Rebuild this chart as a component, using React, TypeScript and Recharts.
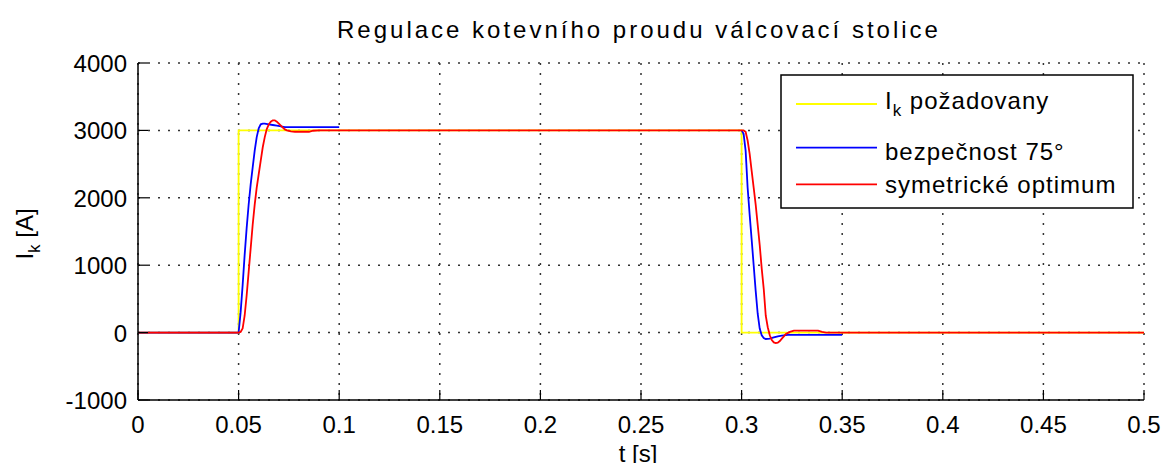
import { LineChart, Line, XAxis, YAxis, CartesianGrid } from 'recharts';

// time [s] / armature current [A]
const yellowT = [0, 0.05, 0.05, 0.3, 0.3, 0.5];
const yellowI = [0, 0, 3000, 3000, 0, 0];

const blueT = [
  0, 0.05, 0.051, 0.052, 0.053, 0.054, 0.055, 0.056, 0.057, 0.058, 0.059, 0.06, 0.061, 0.062, 0.063,
  0.065, 0.067, 0.069, 0.071, 0.073, 0.1,
  0.2,
  0.3, 0.301, 0.302, 0.303, 0.304, 0.305, 0.306, 0.307, 0.308, 0.309, 0.31, 0.311, 0.312, 0.314,
  0.316, 0.318, 0.32, 0.323, 0.35,
];
const blueI = [
  0, 0, 300, 700, 1150, 1550, 1900, 2200, 2450, 2700, 2900, 3030, 3090, 3100, 3100,
  3090, 3080, 3070, 3060, 3050, 3050,
  null,
  3000, 2950, 2700, 2150, 1750, 1380, 1000, 620, 280, 60, -40, -80, -95, -90,
  -70, -55, -45, -35, -35,
];

const redT = [
  0, 0.05, 0.051, 0.052, 0.053, 0.054, 0.055, 0.056, 0.057, 0.058, 0.059, 0.06, 0.061, 0.062, 0.063,
  0.064, 0.065, 0.066, 0.067, 0.068, 0.069, 0.07, 0.071, 0.072, 0.073, 0.074, 0.076, 0.078, 0.085,
  0.087, 0.09,
  0.3, 0.301, 0.302, 0.303, 0.304, 0.305, 0.306, 0.307, 0.308, 0.309, 0.31, 0.311, 0.312, 0.313,
  0.314, 0.315, 0.316, 0.317, 0.318, 0.319, 0.32, 0.321, 0.322, 0.324, 0.326, 0.338, 0.34, 0.342, 0.5,
];
const redI = [
  0, 0, 10, 60, 250, 550, 900, 1250, 1600, 1900, 2150, 2350, 2550, 2750, 2900,
  3020, 3090, 3130, 3150, 3150, 3130, 3100, 3070, 3040, 3015, 3000, 2985, 2980, 2980,
  2995, 3000,
  3000, 3000, 2980, 2850, 2650, 2400, 2150, 1900, 1600, 1300, 950, 650, 250, 80,
  -40, -110, -145, -155, -150, -125, -90, -55, -20, 10, 30, 30, 10, 0, 0,
];

const xTicks = [0, 0.05, 0.1, 0.15, 0.2, 0.25, 0.3, 0.35, 0.4, 0.45, 0.5];
const yTicks = [-1000, 0, 1000, 2000, 3000, 4000];

const title = 'Regulace kotevního proudu válcovací stolice';
const legendNames = ['požadovany', 'bezpečnost 75°', 'symetrické optimum'];
const colors = ['#ffff00', '#0000ff', '#ff0000'];

const toRows = (t: number[], v: (number | null)[]) => t.map((x, k) => ({ t: x, i: v[k] }));

const FONT = "'Liberation Sans', Arial, sans-serif";
const W = 1160;
const H = 463;

const BottomTick = ({ x, y, payload }: any) => (
  <g>
    <line x1={x} y1={y} x2={x} y2={y - 10} stroke="#000" strokeWidth={1.2} />
    <text x={x} y={y + 33} textAnchor="middle" fontSize={24} fontFamily={FONT} fill="#000">
      {String(payload.value)}
    </text>
  </g>
);
const TopTick = ({ x, y }: any) => (
  <line x1={x} y1={y} x2={x} y2={y + 10} stroke="#000" strokeWidth={1.2} />
);
const LeftTick = ({ x, y, payload }: any) => (
  <g>
    <line x1={x} y1={y} x2={x + 10} y2={y} stroke="#000" strokeWidth={1.2} />
    <text x={x - 11} y={y + 9} textAnchor="end" fontSize={24} fontFamily={FONT} fill="#000">
      {String(payload.value)}
    </text>
  </g>
);
const RightTick = ({ x, y }: any) => (
  <line x1={x} y1={y} x2={x - 10} y2={y} stroke="#000" strokeWidth={1.2} />
);

export default function App() {
  const axisLine = { stroke: '#000', strokeWidth: 1.5 };
  return (
    <div style={{ position: 'relative', width: W, height: H, marginBottom: -8, background: '#fff' }}>
      <LineChart width={W} height={H} margin={{ top: 55, right: 24, bottom: 8, left: 10 }}>
        <CartesianGrid stroke="#333" strokeDasharray="2 8" strokeWidth={1.5} />
        <XAxis
          dataKey="t"
          type="number"
          domain={[0, 0.5]}
          ticks={xTicks}
          allowDataOverflow
          height={63}
          tickSize={0}
          tickMargin={0}
          tickLine={false}
          axisLine={axisLine}
          tick={BottomTick}
          interval={0}
        />
        <XAxis
          xAxisId="top"
          orientation="top"
          dataKey="t"
          type="number"
          domain={[0, 0.5]}
          ticks={xTicks}
          height={0}
          tickSize={0}
          tickMargin={0}
          tickLine={false}
          axisLine={axisLine}
          tick={TopTick}
          interval={0}
        />
        <YAxis
          type="number"
          domain={[-1000, 4000]}
          ticks={yTicks}
          allowDataOverflow
          width={120}
          tickSize={0}
          tickMargin={0}
          tickLine={false}
          axisLine={axisLine}
          tick={LeftTick}
          interval={0}
        />
        <YAxis
          yAxisId="right"
          orientation="right"
          type="number"
          domain={[-1000, 4000]}
          ticks={yTicks}
          width={0}
          tickSize={0}
          tickMargin={0}
          tickLine={false}
          axisLine={axisLine}
          tick={RightTick}
          interval={0}
        />
        <Line
          data={toRows(yellowT, yellowI)}
          dataKey="i"
          type="linear"
          stroke={colors[0]}
          strokeWidth={1.8}
          dot={false}
          isAnimationActive={false}
        />
        <Line
          data={toRows(blueT, blueI)}
          dataKey="i"
          type="linear"
          stroke={colors[1]}
          strokeWidth={1.8}
          dot={false}
          isAnimationActive={false}
        />
        <Line
          data={toRows(redT, redI)}
          dataKey="i"
          type="linear"
          stroke={colors[2]}
          strokeWidth={1.8}
          dot={false}
          isAnimationActive={false}
        />
      </LineChart>
      <svg
        width={W}
        height={H}
        style={{ position: 'absolute', left: 0, top: 0, pointerEvents: 'none' }}
        fontFamily={FONT}
      >
        <text x={631} y={30} textAnchor="middle" fontSize={24} letterSpacing={3} fill="#000">
          {title}
        </text>
        <text x={630} y={454} textAnchor="middle" fontSize={24} fill="#000">
          t [s]
        </text>
        <text x={25} y={226} textAnchor="middle" fontSize={24} fill="#000" transform="rotate(-90 25 226)">
          I<tspan dy={7} fontSize={17}>k</tspan>
          <tspan dy={-7}> [A]</tspan>
        </text>
        <rect x={773} y={67} width={352} height={133} fill="#fff" stroke="#000" strokeWidth={1.5} />
        {[96, 139.7, 176.3].map((ly, k) => (
          <line key={k} x1={788} y1={ly} x2={869} y2={ly} stroke={colors[k]} strokeWidth={1.8} />
        ))}
        <text x={877} y={101.3} fontSize={24} fill="#000" letterSpacing={1}>
          I<tspan dy={7} fontSize={17}>k</tspan>
          <tspan dy={-7}> {legendNames[0]}</tspan>
        </text>
        <text x={877} y={152} fontSize={24} fill="#000" letterSpacing={1}>
          {legendNames[1]}
        </text>
        <text x={877} y={185.3} fontSize={24} fill="#000" letterSpacing={1}>
          {legendNames[2]}
        </text>
      </svg>
    </div>
  );
}
